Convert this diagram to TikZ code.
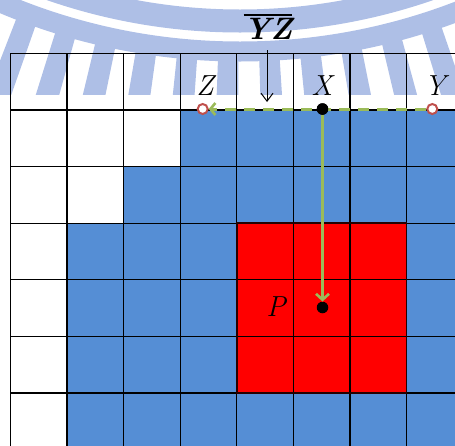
\documentclass[tikz,border=0pt]{standalone}
\usetikzlibrary{arrows.meta}
\definecolor{cellblue}{RGB}{85,142,213}
\definecolor{cellred}{RGB}{255,0,0}
\definecolor{lgreen}{RGB}{155,187,89}
\definecolor{ringred}{RGB}{192,80,77}
\definecolor{wmark}{RGB}{174,191,230}
\tikzset{
  gridline/.style={line width=1.2pt, black},
  openpt/.style={circle, draw=ringred, fill=white, line width=2pt, inner sep=0pt, minimum size=10pt},
  fullpt/.style={circle, fill=black, inner sep=0pt, minimum size=11.5pt},
  lbl/.style={inner sep=0pt, font=\fontsize{29}{31}\selectfont\itshape},
  biglbl/.style={inner sep=0pt, font=\fontsize{31}{33}\selectfont\bfseries\itshape},
  greenline/.style={lgreen, line width=3pt},
}
\newcommand{\myoverbar}[1]{\setbox0=\hbox{#1}\vbox{\hrule width \wd0 height 2pt\kern 2.5pt\box0}}
\begin{document}
\begin{tikzpicture}[x=1pt,y=-1pt]
\useasboundingbox (0,0) rectangle (455,445);
\clip (0,0) rectangle (455,445);
% watermark (faint logo)
\fill[wmark, even odd rule] (240,-556.5) circle[radius=566pt] (240,-556.5) circle[radius=589pt];
\fill[wmark, even odd rule] (240,-556.5) circle[radius=598pt] (240,-556.5) circle[radius=618pt];
\foreach \i in {0,...,10} {
  \pgfmathsetmacro\ma{110.3-3.84*\i-0.95}
  \pgfmathsetmacro\mb{110.3-3.84*\i+0.95}
  \pgfmathsetmacro\ra{651.5/sin(\ma)}
  \pgfmathsetmacro\rb{651.5/sin(\mb)}
  \fill[wmark] ({240+610*cos(\ma)},{-556.5+610*sin(\ma)})
            -- ({240+\ra*cos(\ma)},{-556.5+\ra*sin(\ma)})
            -- ({240+\rb*cos(\mb)},{-556.5+\rb*sin(\mb)})
            -- ({240+610*cos(\mb)},{-556.5+610*sin(\mb)}) -- cycle;
}
% cells
\fill[cellblue] (180.1,110) rectangle (470,460);
\fill[cellblue] (123.5,166.6) rectangle (470,460);
\fill[cellblue] (66.9,223.2) rectangle (470,460);
\fill[cellred] (236.7,223.2) rectangle (406.5,393.0);
% grid
\foreach \i in {0,...,8} { \draw[gridline] (10.3+56.6*\i,53.3) -- (10.3+56.6*\i,460); }
\foreach \j in {0,...,7} { \draw[gridline] (10.3,53.3+56.6*\j) -- (470,53.3+56.6*\j); }
\draw[line width=1.7pt, black!85!red] (236.7,223.2) rectangle (406.5,393.0);
% points
\node[openpt] (Z) at (202.7,109) {};
\node[openpt] (Y) at (432.3,109) {};
\node[fullpt] (X) at (322.5,109) {};
\node[fullpt] (P) at (322.5,307.5) {};
% labels
\node[lbl] (Zl) at (205,86) {Z};
\node[lbl] (Xl) at (322,86) {X};
\node[lbl] (Yl) at (435,86) {Y};
\node[lbl] (Pl) at (276,307) {P};
\node[biglbl] (YZlbl) at (268,27) {\myoverbar{YZ}};
% connectors
\coordinate (aTop) at (267,50);
\coordinate (aBot) at (267,102);
\draw[line width=1pt, -{Straight Barb[length=8pt,width=12pt,line width=1pt]}] (aTop) -- (aBot);
\draw[greenline, dash pattern=on 11pt off 8pt, -{Straight Barb[length=5pt,width=12pt,line width=2.6pt]}] (Y) -- (Z);
\draw[greenline, -{Straight Barb[length=6pt,width=13pt,line width=2.6pt]}] (X) -- (P);
\node[fullpt] at (X) {};
\end{tikzpicture}
\end{document}
